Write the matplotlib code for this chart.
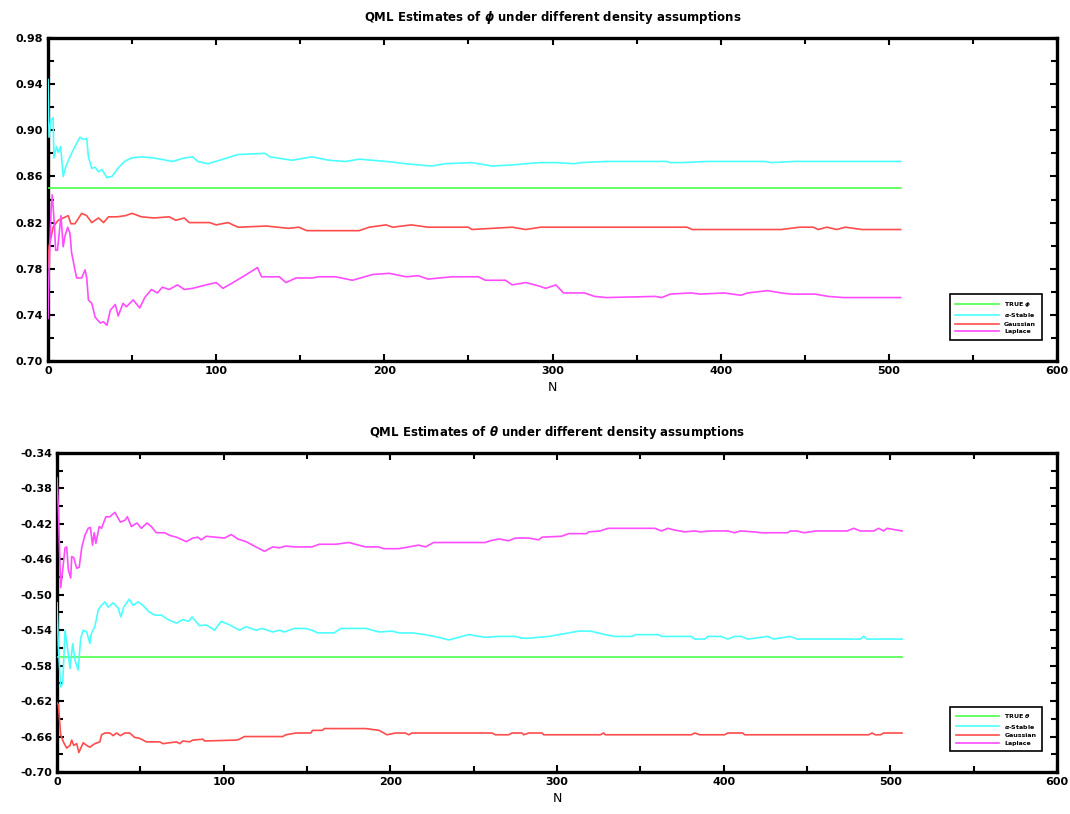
import numpy as np
import matplotlib
matplotlib.use('Agg')
import matplotlib.pyplot as plt
from matplotlib.ticker import MultipleLocator, FixedLocator

plt.rcParams['font.family'] = ['DejaVu Sans']
plt.rcParams['font.weight'] = 'bold'

# colours
c_true = '#4cff4c'
c_stable = '#4cffff'
c_gauss = '#ff4c4c'
c_lap = '#ff4cff'

# ---- phi panel ----
phi_true = 0.85
phi_stable = [(0, 0.944), (0.3, 0.924), (0.6, 0.894), (1.8, 0.909), (3, 0.911), (3.5, 0.876),
              (5, 0.886), (6, 0.881), (7.5, 0.886), (9, 0.860), (10.5, 0.868), (13, 0.877),
              (16, 0.886), (19, 0.894), (21, 0.892), (23, 0.893), (24, 0.877), (26, 0.867),
              (28, 0.868), (30, 0.864), (32, 0.866), (35, 0.859), (38, 0.860), (41.5, 0.867),
              (45.5, 0.873), (49.5, 0.876), (55.5, 0.877), (63, 0.876), (74, 0.873), (81, 0.876),
              (86, 0.877), (89, 0.873), (95, 0.871), (102, 0.874), (113, 0.879), (129, 0.880),
              (132, 0.877), (145, 0.874), (157, 0.877), (167, 0.874), (177, 0.873), (185, 0.875),
              (201, 0.873), (213, 0.871), (228, 0.869), (236, 0.871), (252, 0.872), (264, 0.869),
              (276, 0.870), (292, 0.872), (302, 0.872), (313, 0.871), (317, 0.872), (332, 0.873),
              (368, 0.873), (370, 0.872), (377, 0.872), (392, 0.873), (426, 0.873), (430, 0.872),
              (444, 0.873), (507, 0.873)]
phi_gauss = [(0, 0.781), (0.6, 0.799), (3, 0.816), (6, 0.822), (9, 0.824), (12, 0.826),
             (13.6, 0.819), (16, 0.819), (20, 0.828), (23, 0.826), (26, 0.820), (30, 0.824),
             (33, 0.820), (36, 0.825), (41, 0.825), (46, 0.826), (50, 0.828), (55.5, 0.825),
             (63, 0.824), (72, 0.825), (76, 0.822), (81, 0.824), (84, 0.820), (96, 0.820),
             (100, 0.818), (107, 0.820), (113, 0.816), (130, 0.817), (143, 0.815), (149, 0.816),
             (154, 0.813), (185, 0.813), (191, 0.816), (201, 0.818), (205, 0.816), (216, 0.818),
             (226, 0.816), (250, 0.816), (252, 0.814), (276, 0.816), (284, 0.814), (293, 0.816),
             (380, 0.816), (383, 0.814), (436, 0.814), (447, 0.816), (455, 0.816), (458, 0.814),
             (463, 0.816), (469, 0.814), (474, 0.816), (484, 0.814), (507, 0.814)]
phi_lap = [(0, 0.737), (0.6, 0.779), (1.8, 0.831), (2.5, 0.844), (3.7, 0.820), (4.5, 0.796),
           (5.6, 0.796), (7.7, 0.826), (9, 0.799), (10, 0.808), (11.7, 0.816), (13, 0.811),
           (14, 0.794), (16, 0.779), (17, 0.772), (20, 0.772), (22, 0.779), (23, 0.772),
           (24, 0.753), (26, 0.750), (28, 0.738), (31, 0.733), (33, 0.734), (35, 0.731),
           (37, 0.744), (40, 0.749), (41.7, 0.739), (44.6, 0.750), (46.6, 0.747), (50.6, 0.753),
           (54.5, 0.746), (57.5, 0.755), (61.5, 0.762), (65, 0.759), (68, 0.764), (72, 0.762),
           (77, 0.766), (81, 0.762), (86, 0.763), (94, 0.766), (100, 0.768), (104, 0.763),
           (110, 0.768), (118, 0.775), (124.5, 0.781), (127, 0.773), (137.5, 0.773), (141.5, 0.768),
           (147.5, 0.772), (157, 0.772), (161, 0.773), (171, 0.773), (181, 0.770), (193, 0.775),
           (203, 0.776), (213, 0.773), (220, 0.774), (226, 0.771), (240, 0.773), (256, 0.773),
           (260, 0.770), (272, 0.770), (276, 0.766), (284, 0.768), (292, 0.765), (296, 0.763),
           (302, 0.766), (306.5, 0.759), (319, 0.759), (325, 0.756), (332, 0.755), (361, 0.756),
           (365, 0.755), (370, 0.758), (382, 0.759), (388, 0.758), (402, 0.759), (412, 0.757),
           (416, 0.759), (428, 0.761), (436, 0.759), (442, 0.758), (456, 0.758), (464, 0.756),
           (473, 0.755), (507, 0.755)]

# ---- theta panel ----
theta_true = -0.57
theta_stable = [(0, -0.509), (0.8, -0.559), (2.2, -0.604), (3.4, -0.600), (4.8, -0.540),
                (6.2, -0.559), (7.8, -0.583), (9.4, -0.555), (10.8, -0.574), (12.7, -0.585),
                (14.2, -0.549), (15.7, -0.540), (17.8, -0.542), (19.7, -0.555), (20.7, -0.543),
                (22.7, -0.536), (24.7, -0.517), (26.7, -0.512), (28.7, -0.508), (30.7, -0.514),
                (33.7, -0.509), (36.7, -0.515), (38.3, -0.525), (40, -0.514), (43.3, -0.505),
                (45.6, -0.512), (48.6, -0.508), (51.6, -0.512), (55, -0.519), (58.6, -0.523),
                (62.6, -0.523), (66.6, -0.528), (71.6, -0.532), (75.5, -0.528), (79, -0.530),
                (81, -0.525), (85.5, -0.535), (89.5, -0.534), (94.5, -0.540), (98.5, -0.530),
                (103.5, -0.534), (109.5, -0.540), (113.5, -0.536), (119.4, -0.540), (123, -0.538),
                (129.4, -0.542), (133.4, -0.540), (136.4, -0.542), (142.3, -0.538), (149, -0.538),
                (153, -0.540), (156.3, -0.543), (166.3, -0.543), (170.3, -0.538), (185.3, -0.538),
                (193.2, -0.542), (201, -0.541), (205, -0.543), (213, -0.543), (221, -0.545),
                (229, -0.548), (235, -0.551), (239, -0.549), (247, -0.545), (257, -0.548),
                (265, -0.547), (275, -0.547), (279, -0.549), (283, -0.549), (295, -0.547),
                (301, -0.545), (313, -0.541), (320, -0.541), (329, -0.545), (335, -0.547),
                (345, -0.547), (347, -0.545), (361, -0.545), (362.6, -0.547), (380.5, -0.547),
                (382.6, -0.550), (388.6, -0.550), (390.5, -0.547), (398.5, -0.547), (402.5, -0.550),
                (406.5, -0.547), (410.5, -0.547), (414.5, -0.550), (426.5, -0.547), (430, -0.550),
                (440, -0.547), (444, -0.550), (482, -0.550), (484, -0.547), (486, -0.550),
                (507, -0.550)]
theta_gauss = [(0, -0.622), (0.8, -0.624), (2.2, -0.658), (3.8, -0.666), (5.8, -0.673),
               (7.8, -0.670), (8.8, -0.664), (10, -0.670), (11.8, -0.668), (13.1, -0.678),
               (15.7, -0.667), (17.8, -0.670), (19.7, -0.672), (22.7, -0.668), (25.7, -0.666),
               (26.7, -0.658), (28.7, -0.656), (31.7, -0.656), (33.7, -0.659), (35.7, -0.656),
               (38, -0.659), (40.7, -0.656), (43.6, -0.656), (46.6, -0.661), (49.6, -0.662),
               (53.6, -0.666), (61.6, -0.666), (63.6, -0.668), (67.6, -0.667), (71.6, -0.666),
               (73.6, -0.668), (75.5, -0.665), (79.5, -0.666), (81.5, -0.664), (87.5, -0.663),
               (88.5, -0.665), (107.5, -0.664), (109.5, -0.663), (112.4, -0.660), (135.4, -0.660),
               (137.3, -0.658), (143.3, -0.656), (152.3, -0.656), (153.3, -0.653), (159.3, -0.653),
               (160.3, -0.651), (185.2, -0.651), (193.2, -0.653), (198, -0.658), (203, -0.656),
               (209, -0.656), (211, -0.658), (213, -0.656), (261, -0.656), (263, -0.658),
               (271, -0.658), (273, -0.656), (279, -0.656), (280, -0.658), (283, -0.656),
               (291, -0.656), (292, -0.658), (326, -0.658), (328, -0.656), (329, -0.658),
               (380.6, -0.658), (382.6, -0.656), (385.6, -0.658), (400.5, -0.658), (402.5, -0.656),
               (411.5, -0.656), (412.5, -0.658), (487, -0.658), (489, -0.656), (491, -0.658),
               (494, -0.658), (496, -0.656), (507, -0.656)]
theta_lap = [(0, -0.368), (0.8, -0.404), (2.2, -0.492), (3.4, -0.472), (4.8, -0.447),
             (5.8, -0.446), (6.8, -0.472), (8.2, -0.481), (8.8, -0.457), (10, -0.458),
             (11.8, -0.470), (13.3, -0.469), (14.8, -0.447), (16.7, -0.433), (18.7, -0.425),
             (20, -0.424), (21.3, -0.444), (22.3, -0.430), (23.3, -0.442), (25.3, -0.423),
             (26.7, -0.425), (29.3, -0.412), (31.7, -0.412), (34.7, -0.407), (38, -0.418),
             (40.7, -0.416), (42.2, -0.412), (44.6, -0.423), (48, -0.419), (50.6, -0.425),
             (54, -0.419), (56.6, -0.423), (59.6, -0.430), (64.6, -0.430), (67.6, -0.433),
             (71.6, -0.435), (77.6, -0.440), (81.5, -0.436), (84.5, -0.435), (86.5, -0.438),
             (89.5, -0.434), (100.5, -0.436), (104.5, -0.432), (108.4, -0.437), (113.4, -0.440),
             (117.3, -0.444), (121.4, -0.448), (124.4, -0.451), (129.4, -0.446), (133.4, -0.447),
             (137.3, -0.445), (142.3, -0.446), (153, -0.446), (157.3, -0.443), (167.3, -0.443),
             (175, -0.441), (181, -0.444), (185, -0.446), (193, -0.446), (196, -0.448),
             (205, -0.448), (211, -0.446), (217, -0.444), (221, -0.446), (226, -0.441),
             (257, -0.441), (260, -0.439), (265, -0.437), (271, -0.439), (275, -0.436),
             (283, -0.436), (289, -0.438), (291, -0.435), (302.6, -0.434), (307, -0.431),
             (317.6, -0.431), (319, -0.429), (325.8, -0.428), (330.7, -0.425), (358.7, -0.425),
             (362.6, -0.428), (366.6, -0.425), (370.6, -0.427), (376.6, -0.429), (382.6, -0.428),
             (386, -0.429), (392, -0.428), (402.5, -0.428), (406.5, -0.430), (410, -0.428),
             (418, -0.429), (422.4, -0.430), (438.4, -0.430), (440, -0.428), (444, -0.428),
             (448, -0.430), (455.3, -0.428), (474, -0.428), (478, -0.425), (482, -0.428),
             (490, -0.428), (493, -0.425), (496, -0.428), (498, -0.425), (507, -0.428)]

n_max = 507
phi_ticks = [0.70, 0.74, 0.78, 0.82, 0.86, 0.90, 0.94, 0.98]
theta_ticks = [-0.70, -0.66, -0.62, -0.58, -0.54, -0.50, -0.46, -0.42, -0.38, -0.34]

fig = plt.figure(figsize=(10.7, 8.14), dpi=100)
ax1 = fig.add_axes([0.0449, 0.5565, 0.9430, 0.3968])
ax2 = fig.add_axes([0.0533, 0.0516, 0.9346, 0.3919])


def style(ax, yticks, title, legend_first):
    ax.set_xlim(0, 600)
    ax.set_ylim(yticks[0], yticks[-1])
    ax.xaxis.set_major_locator(MultipleLocator(100))
    ax.xaxis.set_minor_locator(MultipleLocator(50))
    ax.yaxis.set_major_locator(FixedLocator(yticks))
    mids = [(a + b) / 2 for a, b in zip(yticks[:-1], yticks[1:])]
    ax.yaxis.set_minor_locator(FixedLocator(mids))
    ax.yaxis.set_major_formatter(plt.FuncFormatter(lambda v, p: f'{v:.2f}'))
    ax.tick_params(which='both', direction='in', top=True, right=True,
                   width=1.5, labelsize=8)
    ax.tick_params(which='major', length=5)
    ax.tick_params(which='minor', length=4)
    for s in ax.spines.values():
        s.set_linewidth(2.4)
    ax.set_title(title, fontsize=8.5, fontweight='bold', pad=12)
    ax.set_xlabel('N', fontsize=9)
    leg = ax.legend([legend_first, r'$\alpha$-Stable', 'Gaussian', 'Laplace'],
                    loc='lower right', bbox_to_anchor=(0.988, 0.055),
                    fontsize=4.5, handlelength=7, borderpad=0.9,
                    labelspacing=0.35, fancybox=False, framealpha=1)
    leg.get_frame().set_edgecolor('black')
    leg.get_frame().set_linewidth(1.2)


def draw(ax, true_val, series):
    ax.plot([0, n_max], [true_val, true_val], color=c_true, lw=1.2, zorder=3)
    for pts, col in zip(series, [c_stable, c_gauss, c_lap]):
        arr = np.array(pts)
        ax.plot(arr[:, 0], arr[:, 1], color=col, lw=1.2, zorder=3)


draw(ax1, phi_true, [phi_stable, phi_gauss, phi_lap])
style(ax1, phi_ticks, r'QML Estimates of $\phi$ under different density assumptions',
      r'TRUE $\phi$')

draw(ax2, theta_true, [theta_stable, theta_gauss, theta_lap])
style(ax2, theta_ticks, r'QML Estimates of $\theta$ under different density assumptions',
      r'TRUE $\theta$')

fig.savefig('out.png', dpi=100)
